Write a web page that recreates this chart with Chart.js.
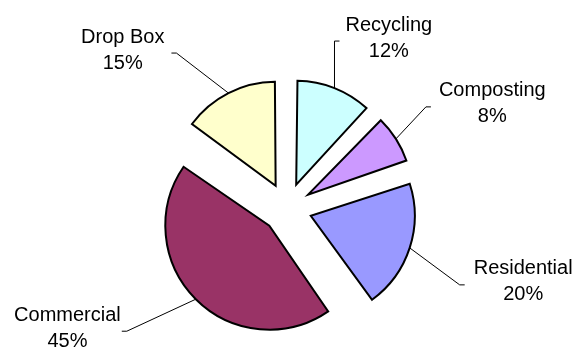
<!DOCTYPE html>
<html lang="en">
<head>
<meta charset="UTF-8">
<title>Waste by Sector</title>
<script src="https://cdn.jsdelivr.net/npm/chart.js"></script>
<style>
  html, body { margin: 0; padding: 0; background: #fff; }
  #wrap { position: relative; width: 583px; height: 360px; }
</style>
</head>
<body>
<div id="wrap"><canvas id="wasteChart"></canvas></div>
<script>
const categories = ['Recycling', 'Composting', 'Residential', 'Commercial', 'Drop Box'];
const shares = [12, 8, 20, 45, 15];

const sliceColors = ['#CCFFFF', '#CC99FF', '#9999FF', '#993366', '#FFFFCC'];
const PIE_RADIUS = 104;
const EXPLODE = 100; // chart.js shifts a slice by offset / 4

// leader line elbow, relative to the point on the rim; side: 1 = label right, -1 = left
const leaders = [
  { dx: 0, dy: -47, side: 1, gap: 6 },
  { dx: 30, dy: -32, side: 1, gap: 8 },
  { dx: 50, dy: 37, side: 1, gap: 9 },
  { dx: -69, dy: 32, side: -1, gap: 1 },
  { dx: -52, dy: -40, side: -1, gap: 7 }
];

// chart.js grows the radius of an offset slice, pull it back so all slices match
const keepRadius = {
  id: 'keepRadius',
  afterDatasetsUpdate(chart) {
    chart.getDatasetMeta(0).data.forEach(arc => {
      const fix = 1 - Math.sin(Math.min(Math.PI, arc.circumference));
      arc.outerRadius = PIE_RADIUS - (EXPLODE / 4) * fix;
    });
  }
};

const sliceLabels = {
  id: 'sliceLabels',
  afterDatasetsDraw(chart) {
    const ctx = chart.ctx;
    const total = shares.reduce((a, b) => a + b, 0);
    chart.getDatasetMeta(0).data.forEach((arc, i) => {
      const mid = (arc.startAngle + arc.endAngle) / 2;
      const cx = arc.x + Math.cos(mid) * EXPLODE / 4;
      const cy = arc.y + Math.sin(mid) * EXPLODE / 4;
      const sx = cx + Math.cos(mid) * PIE_RADIUS;
      const sy = cy + Math.sin(mid) * PIE_RADIUS;
      const l = leaders[i];
      const ex = sx + l.dx, ey = sy + l.dy;
      const tx = ex + l.side * 5;

      ctx.save();
      ctx.strokeStyle = '#000';
      ctx.lineWidth = 1;
      ctx.beginPath();
      ctx.moveTo(sx, sy);
      ctx.lineTo(ex, ey);
      ctx.lineTo(tx, ey);
      ctx.stroke();

      ctx.font = '20px "Liberation Sans", Arial, sans-serif';
      const lines = [categories[i], Math.round(shares[i] / total * 100) + '%'];
      const w = Math.max(...lines.map(t => ctx.measureText(t).width));
      const centerX = tx + l.side * (l.gap + w / 2);
      ctx.textAlign = 'center';
      ctx.textBaseline = 'middle';
      ctx.fillStyle = '#000';
      ctx.fillText(lines[0], centerX, ey - 16);
      ctx.fillText(lines[1], centerX, ey + 10);
      ctx.restore();
    });
  }
};

new Chart(document.getElementById('wasteChart'), {
  type: 'pie',
  data: {
    labels: categories,
    datasets: [{
      data: shares,
      backgroundColor: sliceColors,
      borderColor: '#000',
      borderWidth: 2,
      borderJoinStyle: 'miter',
      offset: EXPLODE,
      radius: PIE_RADIUS
    }]
  },
  options: {
    responsive: true,
    maintainAspectRatio: false,
    animation: false,
    events: [],
    layout: { padding: { left: 0, right: 9, top: 56, bottom: 0 } },
    plugins: {
      legend: { display: false },
      tooltip: { enabled: false }
    }
  },
  plugins: [keepRadius, sliceLabels]
});
</script>
</body>
</html>
